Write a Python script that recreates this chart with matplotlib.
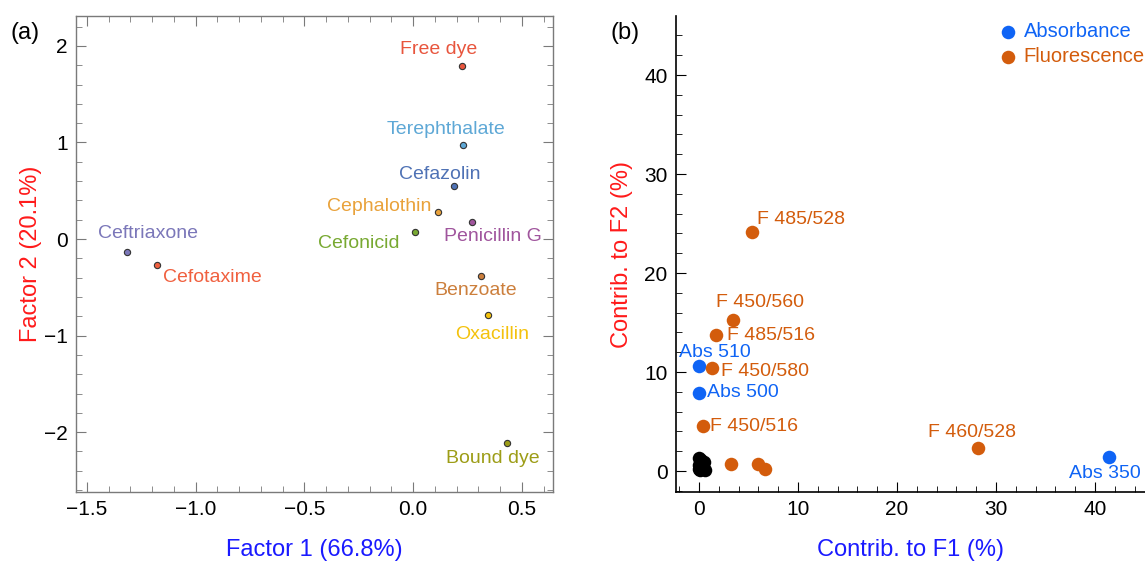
import matplotlib
matplotlib.use("Agg")
import matplotlib.pyplot as plt
from matplotlib.ticker import MultipleLocator

plt.rcParams['font.family'] = ['Liberation Sans', 'DejaVu Sans']

# ---- Panel (a) data ----
analytes = ["Free dye", "Terephthalate", "Cefazolin", "Cephalothin", "Penicillin G",
            "Cefonicid", "Ceftriaxone", "Cefotaxime", "Benzoate", "Oxacillin", "Bound dye"]
factor1 = [0.225, 0.23, 0.19, 0.115, 0.27, 0.01, -1.315, -1.177, 0.31, 0.345, 0.43]
factor2 = [1.79, 0.97, 0.55, 0.28, 0.18, 0.07, -0.135, -0.27, -0.38, -0.79, -2.11]
analyte_colors = ["#e8553d", "#5ea8d6", "#4f72b5", "#e9a23b", "#a0559d", "#78a932",
                  "#7b77b9", "#f0603f", "#cc7f3c", "#f4c20d", "#9d9d17"]

# ---- Panel (b) data ----
abs_labels = ["Abs 510", "Abs 500", "Abs 350"]
abs_f1 = [0.0, 0.0, 41.4]
abs_f2 = [10.6, 7.9, 1.4]

flu_labels = ["F 485/528", "F 450/560", "F 485/516", "F 450/580", "F 450/516",
              "F 460/528", "", "", ""]
flu_f1 = [5.35, 3.4, 1.7, 1.3, 0.4, 28.2, 3.2, 5.96, 6.7]
flu_f2 = [24.1, 15.3, 13.7, 10.4, 4.5, 2.3, 0.7, 0.7, 0.2]

other_f1 = [0.0, 0.2, 0.5, 0.0, 0.3, 0.0, 0.6, 0.1, 0.4]
other_f2 = [1.3, 1.1, 0.9, 0.6, 0.5, 0.2, 0.1, 0.1, 0.3]

fig = plt.figure(figsize=(11.45, 5.61), dpi=100)
W, H = 1145, 561

# ---------------- Panel (a) ----------------
axa = fig.add_axes([76 / W, 1 - 492 / H, (553 - 76) / W, (492 - 16) / H])
frame_col = "#7a7a7a"
for s in axa.spines.values():
    s.set_color(frame_col)
    s.set_linewidth(1.0)
axa.set_xlim(-1.55, 0.643)
axa.set_ylim(-2.62, 2.31)
axa.xaxis.set_major_locator(MultipleLocator(0.5))
axa.xaxis.set_minor_locator(MultipleLocator(0.1))
axa.yaxis.set_major_locator(MultipleLocator(1))
axa.yaxis.set_minor_locator(MultipleLocator(0.2))
axa.tick_params(which='both', direction='in', top=True, right=True, color=frame_col,
                labelsize=15, pad=6)
axa.tick_params(which='major', length=7)
axa.tick_params(which='minor', length=4)
axa.xaxis.set_major_formatter(matplotlib.ticker.FuncFormatter(
    lambda v, p: ("\u2212" if v < -1e-9 else "") + f"{abs(v):.1f}"))
axa.yaxis.set_major_formatter(matplotlib.ticker.FuncFormatter(
    lambda v, p: ("\u2212" if v < -1e-9 else "") + f"{abs(v):.0f}"))

offs_a = [(-23, 17, 'center'), (-17, 16, 'center'), (-15, 11, 'center'),
          (-7, 5, 'right'), (21, -15, 'center'), (-16, -11, 'right'),
          (21, 19, 'center'), (6, -12, 'left'), (-5, -15, 'center'),
          (4, -19, 'center'), (-14, -16, 'center')]
for name, x, y, c, (dx, dy, ha) in zip(analytes, factor1, factor2, analyte_colors, offs_a):
    axa.plot([x], [y], marker='o', ms=4.5, mfc=c, mec='#333333', mew=0.8, ls='none')
    axa.annotate(name, (x, y), xytext=(dx, dy), textcoords='offset pixels',
                 ha=ha, va='center', color=c, fontsize=14)

axa.set_xlabel("Factor 1 (66.8%)", color="#1a1aff", fontsize=17, labelpad=14)
axa.set_ylabel("Factor 2 (20.1%)", color="#ff1a1a", fontsize=17, labelpad=1)
fig.text(10 / W, 1 - 33 / H, "(a)", fontsize=17, va='center', ha='left')

# ---------------- Panel (b) ----------------
axb = fig.add_axes([676 / W, 1 - 492 / H, (1145 - 676) / W, (492 - 16) / H])
axb.set_xlim(-2.32, 45.05)
axb.set_ylim(-2.12, 45.96)
axb.spines['top'].set_visible(False)
axb.spines['right'].set_visible(False)
for s in ['left', 'bottom']:
    axb.spines[s].set_linewidth(1.2)
axb.xaxis.set_major_locator(MultipleLocator(10))
axb.xaxis.set_minor_locator(MultipleLocator(2))
axb.yaxis.set_major_locator(MultipleLocator(10))
axb.yaxis.set_minor_locator(MultipleLocator(2))
axb.tick_params(which='both', direction='in', labelsize=15, pad=6)
axb.tick_params(which='major', length=7)
axb.tick_params(which='minor', length=4)

blue = "#0f64f5"
orange = "#d35c0c"
axb.scatter(other_f1, other_f2, s=95, color='black', zorder=3, linewidths=0)
axb.scatter(abs_f1, abs_f2, s=95, color=blue, zorder=3, linewidths=0, label="Absorbance")
axb.scatter(flu_f1, flu_f2, s=95, color=orange, zorder=3, linewidths=0, label="Fluorescence")

offs_abs = [(16, 14, 'center'), (8, 0, 'left'), (-4, -16, 'center')]
for lab, x, y, (dx, dy, ha) in zip(abs_labels, abs_f1, abs_f2, offs_abs):
    axb.annotate(lab, (x, y), xytext=(dx, dy), textcoords='offset pixels',
                 ha=ha, va='center', color=blue, fontsize=14)
offs_flu = [(5, 13, 'left'), (27, 17, 'center'), (11, 0, 'left'), (9, -3, 'left'),
            (7, 0, 'left'), (-6, 16, 'center'), (0, 0, 'left'), (0, 0, 'left'), (0, 0, 'left')]
for lab, x, y, (dx, dy, ha) in zip(flu_labels, flu_f1, flu_f2, offs_flu):
    if lab:
        axb.annotate(lab, (x, y), xytext=(dx, dy), textcoords='offset pixels',
                     ha=ha, va='center', color=orange, fontsize=14)

leg = axb.legend(loc='upper left', bbox_to_anchor=(0.666, 1.004), frameon=False,
                 fontsize=14.5, handletextpad=0.15, borderaxespad=0, labelspacing=0.3,
                 handlelength=1.2)
for t, c in zip(leg.get_texts(), [blue, orange]):
    t.set_color(c)

axb.set_xlabel("Contrib. to F1 (%)", color="#1a1aff", fontsize=17, labelpad=14)
axb.set_ylabel("Contrib. to F2 (%)", color="#ff1a1a", fontsize=17, labelpad=8)
fig.text(610 / W, 1 - 33 / H, "(b)", fontsize=17, va='center', ha='left')

fig.savefig("out.png", dpi=100)
